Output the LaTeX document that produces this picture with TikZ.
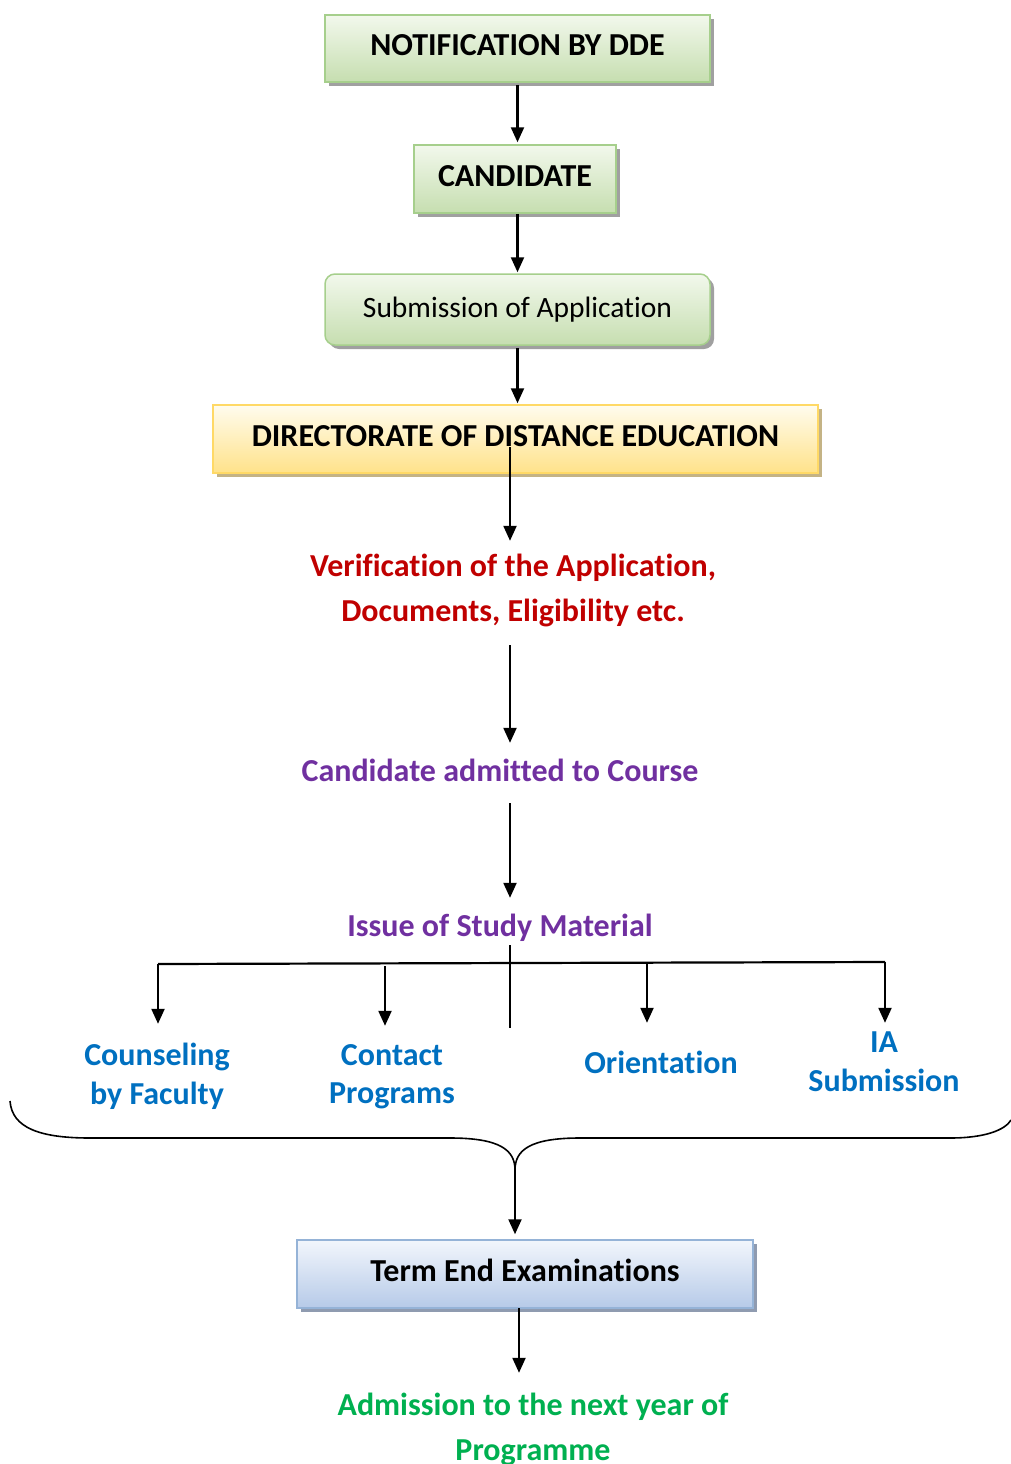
\documentclass[tikz,border=0pt]{standalone}
\usepackage{fontspec}
\setmainfont{Carlito}[Ligatures=NoCommon]
\usetikzlibrary{arrows.meta,shadows}

\definecolor{gborder}{HTML}{A6CF8C}
\definecolor{gtop}{HTML}{F2F8EC}
\definecolor{gbot}{HTML}{C6DEB0}
\definecolor{gshadow}{HTML}{A0A0A0}
\definecolor{yborder}{HTML}{FFD966}
\definecolor{ytop}{HTML}{FFFCEE}
\definecolor{ybot}{HTML}{FFE28A}
\definecolor{yshadow}{HTML}{C4B385}
\definecolor{bborder}{HTML}{95B3D7}
\definecolor{btop}{HTML}{F2F6FC}
\definecolor{bbot}{HTML}{B6CAE8}
\definecolor{bshadow}{HTML}{8F9BB0}
\definecolor{txtred}{HTML}{C00000}
\definecolor{txtpurple}{HTML}{7030A0}
\definecolor{txtblue}{HTML}{0070C0}
\definecolor{txtgreen}{HTML}{00B050}

\tikzset{
  boldfont/.style={font=\bfseries\fontsize{32}{38}\selectfont},
  plainfont/.style={font=\fontsize{29.5}{36}\selectfont},
  box/.style={line width=1.5pt, minimum height=68pt, inner sep=0pt,
    text height=20pt, text depth=5pt, boldfont},
  gbox/.style={box, draw=gborder, top color=gtop, bottom color=gbot,
    drop shadow={shadow xshift=4pt, shadow yshift=-4pt, fill=gshadow, opacity=1}},
  ybox/.style={box, draw=yborder, top color=ytop, bottom color=ybot,
    drop shadow={shadow xshift=4pt, shadow yshift=-4pt, fill=yshadow, opacity=1}},
  bbox/.style={box, draw=bborder, top color=btop, bottom color=bbot,
    drop shadow={shadow xshift=4pt, shadow yshift=-4pt, fill=bshadow, opacity=1}},
  lbl/.style={boldfont, inner sep=0pt, text height=20pt, text depth=0pt},
  arr/.style={line width=2.2pt, -{Triangle[length=15pt,width=13pt]}},
  ln/.style={line width=2.2pt},
}

\begin{document}
\begin{tikzpicture}[x=1pt,y=-1pt]
\useasboundingbox (0,0) rectangle (1011,1464);

% boxes
\node[gbox, minimum width=385pt, minimum height=67pt] (notif) at (517.5,48.5) {NOTIFICATION BY DDE};
\node[gbox, minimum width=202pt] (cand) at (515,179) {CANDIDATE};
\node[gbox, rounded corners=10pt, minimum width=385pt, minimum height=71pt,
      plainfont, text depth=4pt] (subm) at (517.5,309.5) {Submission of Application};
\node[ybox, minimum width=605pt] (dde) at (515.5,439) {DIRECTORATE OF DISTANCE EDUCATION};
\node[bbox, minimum width=456pt] (tee) at (525,1274) {Term End Examinations};

% text steps
\node[lbl, text=txtred] (verif1) at (513,566) {Verification of the Application,};
\node[lbl, text=txtred] (verif2) at (513,611) {Documents, Eligibility etc.};
\node[lbl, text=txtpurple] (adm) at (500,771) {Candidate admitted to Course};
\node[lbl, text=txtpurple] (issue) at (500,926) {Issue of Study Material};
\node[lbl, text=txtblue] (couns1) at (157,1055) {Counseling};
\node[lbl, text=txtblue] (couns2) at (157,1094) {by Faculty};
\node[lbl, text=txtblue] (cont1) at (392,1055) {Contact};
\node[lbl, text=txtblue] (cont2) at (392,1093) {Programs};
\node[lbl, text=txtblue] (orient) at (661,1063) {Orientation};
\node[lbl, text=txtblue] (ia1) at (884,1042) {IA};
\node[lbl, text=txtblue] (ia2) at (884,1081) {Submission};
\node[lbl, text=txtgreen] (next1) at (533,1405) {Admission to the next year of};
\node[lbl, text=txtgreen] (next2) at (533,1450) {Programme};

% helper points
\coordinate (d0) at (510,447);
\coordinate (hub) at (510,1028);
\coordinate (bl) at (158,964);
\coordinate (b2) at (385,966);
\coordinate (b3) at (647,963);
\coordinate (br) at (885,962);
\coordinate (tip) at (515,1170);
\coordinate (t0) at (519,1308);

% main chain
\draw[arr, shorten <=2pt, shorten >=2pt] (notif.south) -- (cand.north -| notif.south);
\draw[arr, shorten >=1pt] (cand.south -| subm.north) -- (subm.north);
\draw[arr, shorten <=2pt, shorten >=1pt] (subm.south) -- (dde.north -| subm.south);
\draw[arr, shorten >=15pt] (d0) -- (d0 |- verif1.north);
\draw[arr, shorten <=24pt, shorten >=18pt] (verif2.south -| d0) -- (adm.north -| d0);
\draw[arr, shorten <=22pt, shorten >=18pt] (adm.south -| d0) -- (issue.north -| d0);
\draw[ln, shorten <=9pt] (issue.south -| hub) -- (hub);

% branch bar and its arrows
\draw[ln] (bl) -- (br);
\draw[arr] (bl) -- ([yshift=21pt]bl |- couns1.north);
\draw[arr] (b2) -- ([yshift=19pt]b2 |- cont1.north);
\draw[arr] (b3) -- ([yshift=30pt]b3 |- orient.north);
\draw[arr] (br) -- ([yshift=9pt]br |- ia1.north);

% brace gathering the activities
\draw[line width=1.6pt] (10,1101) .. controls (12,1128) and (40,1138) .. (90,1138)
  -- (450,1138) .. controls (500,1138) and (515,1150) .. (tip)
  .. controls (515,1150) and (530,1138) .. (580,1138)
  -- (950,1138) .. controls (985,1138) and (1005,1130) .. (1011,1120);
\draw[arr, shorten >=5pt] (tip) -- (tip |- tee.north);

\draw[arr, shorten >=22pt] (t0) -- (t0 |- next1.north);
\end{tikzpicture}
\end{document}
